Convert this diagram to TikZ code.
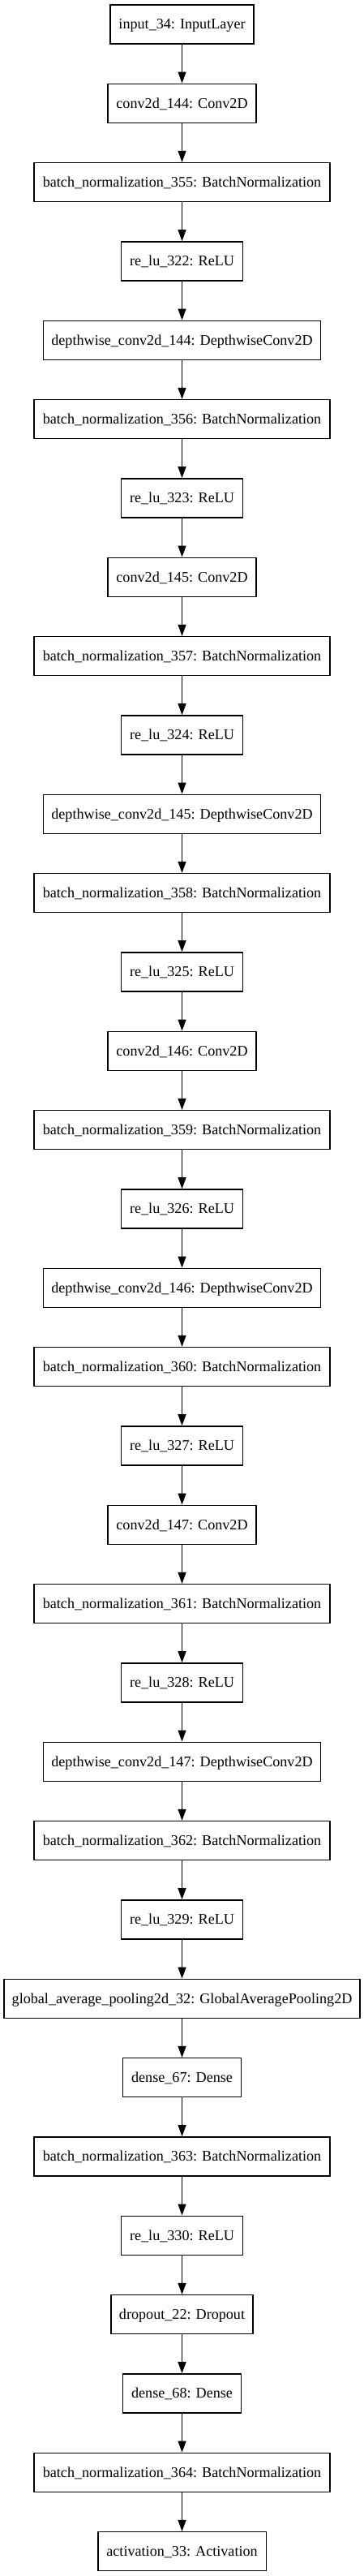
\documentclass[tikz,border=0pt]{standalone}
\usepackage{fontspec}
\setmainfont{Liberation Serif}
\usetikzlibrary{arrows.meta}
\begin{document}
\begin{tikzpicture}[x=1pt,y=1pt,
  layer/.style={draw=black, line width=1pt, rectangle, minimum height=36pt, inner sep=0pt,
    text height=12pt, text depth=3pt,
    font=\fontsize{13.6pt}{16pt}\selectfont, anchor=center},
  flow/.style={line width=1pt, -{Triangle[length=10.5pt,width=7.5pt]}}]
\useasboundingbox (0,0) rectangle (336.75,-2381.25);
\def\cx{168.4}
\node[layer, minimum width=132.75pt] (n1)  at (\cx,-22.4-0*73) {input\_34: InputLayer};
\node[layer, minimum width=137.25pt] (n2)  at (\cx,-22.4-1*73) {conv2d\_144: Conv2D};
\node[layer, minimum width=273.75pt] (n3)  at (\cx,-22.4-2*73) {batch\_normalization\_355: BatchNormalization};
\node[layer, minimum width=112.2pt]  (n4)  at (\cx,-22.4-3*73) {re\_lu\_322: ReLU};
\node[layer, minimum width=256.5pt]  (n5)  at (\cx,-22.4-4*73) {depthwise\_conv2d\_144: DepthwiseConv2D};
\node[layer, minimum width=273.75pt] (n6)  at (\cx,-22.4-5*73) {batch\_normalization\_356: BatchNormalization};
\node[layer, minimum width=112.2pt]  (n7)  at (\cx,-22.4-6*73) {re\_lu\_323: ReLU};
\node[layer, minimum width=137.25pt] (n8)  at (\cx,-22.4-7*73) {conv2d\_145: Conv2D};
\node[layer, minimum width=273.75pt] (n9)  at (\cx,-22.4-8*73) {batch\_normalization\_357: BatchNormalization};
\node[layer, minimum width=112.2pt]  (n10) at (\cx,-22.4-9*73) {re\_lu\_324: ReLU};
\node[layer, minimum width=256.5pt]  (n11) at (\cx,-22.4-10*73) {depthwise\_conv2d\_145: DepthwiseConv2D};
\node[layer, minimum width=273.75pt] (n12) at (\cx,-22.4-11*73) {batch\_normalization\_358: BatchNormalization};
\node[layer, minimum width=112.2pt]  (n13) at (\cx,-22.4-12*73) {re\_lu\_325: ReLU};
\node[layer, minimum width=137.25pt] (n14) at (\cx,-22.4-13*73) {conv2d\_146: Conv2D};
\node[layer, minimum width=273.75pt] (n15) at (\cx,-22.4-14*73) {batch\_normalization\_359: BatchNormalization};
\node[layer, minimum width=112.2pt]  (n16) at (\cx,-22.4-15*73) {re\_lu\_326: ReLU};
\node[layer, minimum width=256.5pt]  (n17) at (\cx,-22.4-16*73) {depthwise\_conv2d\_146: DepthwiseConv2D};
\node[layer, minimum width=273.75pt] (n18) at (\cx,-22.4-17*73) {batch\_normalization\_360: BatchNormalization};
\node[layer, minimum width=112.2pt]  (n19) at (\cx,-22.4-18*73) {re\_lu\_327: ReLU};
\node[layer, minimum width=137.25pt] (n20) at (\cx,-22.4-19*73) {conv2d\_147: Conv2D};
\node[layer, minimum width=273.75pt] (n21) at (\cx,-22.4-20*73) {batch\_normalization\_361: BatchNormalization};
\node[layer, minimum width=112.2pt]  (n22) at (\cx,-22.4-21*73) {re\_lu\_328: ReLU};
\node[layer, minimum width=256.5pt]  (n23) at (\cx,-22.4-22*73) {depthwise\_conv2d\_147: DepthwiseConv2D};
\node[layer, minimum width=273.75pt] (n24) at (\cx,-22.4-23*73) {batch\_normalization\_362: BatchNormalization};
\node[layer, minimum width=112.2pt]  (n25) at (\cx,-22.4-24*73) {re\_lu\_329: ReLU};
\node[layer, minimum width=329.25pt] (n26) at (\cx,-22.4-25*73) {global\_average\_pooling2d\_32: GlobalAveragePooling2D};
\node[layer, minimum width=109.2pt]  (n27) at (\cx,-22.4-26*73) {dense\_67: Dense};
\node[layer, minimum width=273.75pt] (n28) at (\cx,-22.4-27*73) {batch\_normalization\_363: BatchNormalization};
\node[layer, minimum width=112.2pt]  (n29) at (\cx,-22.4-28*73) {re\_lu\_330: ReLU};
\node[layer, minimum width=131.25pt] (n30) at (\cx,-22.4-29*73) {dropout\_22: Dropout};
\node[layer, minimum width=109.2pt]  (n31) at (\cx,-22.4-30*73) {dense\_68: Dense};
\node[layer, minimum width=273.75pt] (n32) at (\cx,-22.4-31*73) {batch\_normalization\_364: BatchNormalization};
\node[layer, minimum width=155.5pt]  (n33) at (\cx,-22.4-32*73) {activation\_33: Activation};
\foreach \i [evaluate=\i as \j using int(\i+1)] in {1,...,32}
  \draw[flow] (n\i.south) -- (n\j.north);
\end{tikzpicture}
\end{document}
